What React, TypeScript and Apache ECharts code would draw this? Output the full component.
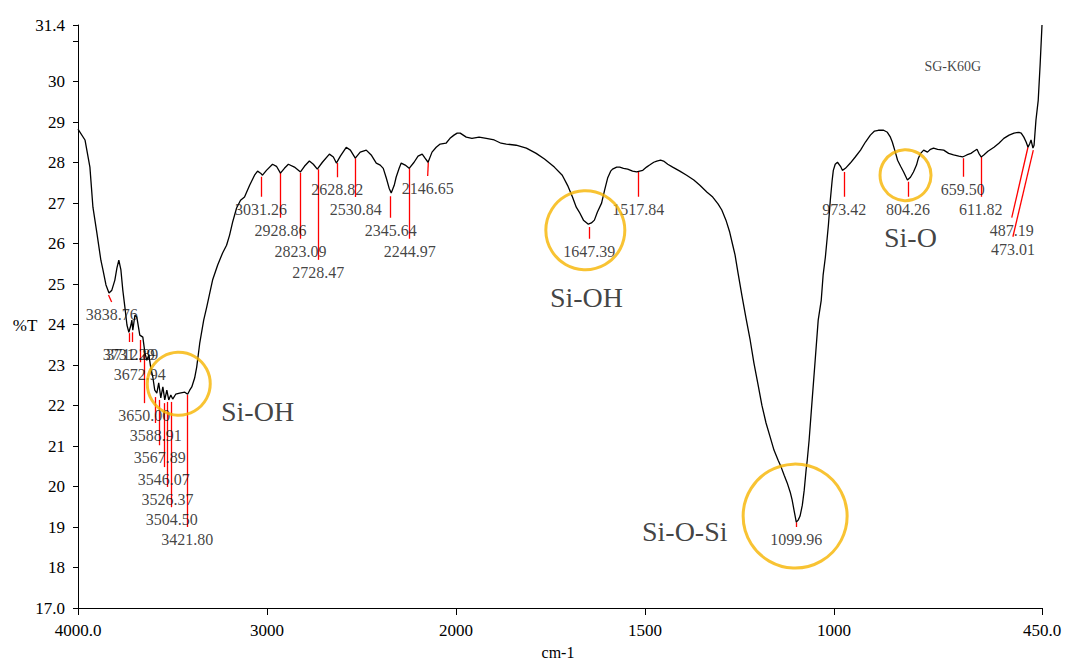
import React, { useEffect, useRef } from "react";
import * as echarts from "echarts";

// ---------- data ----------
const wavenumbers = [
  4000, 3963, 3937, 3921, 3900, 3879, 3868, 3852, 3836, 3821, 3805, 3794, 3784, 3773, 3763, 3752, 3741, 3731, 3720, 3715,
  3710, 3699, 3689, 3673, 3657, 3646, 3636, 3625, 3615, 3604, 3594, 3583, 3573, 3562, 3551, 3541, 3530, 3520, 3509, 3499,
  3483, 3462, 3435, 3420, 3409, 3398, 3383, 3372, 3356, 3335, 3319, 3303, 3288, 3261, 3235, 3214, 3198, 3182, 3161, 3140,
  3119, 3092, 3066, 3050, 3034, 3024, 3003, 2971, 2950, 2929, 2908, 2887, 2855, 2823, 2802, 2776, 2755, 2734, 2707, 2670,
  2649, 2633, 2612, 2581, 2559, 2533, 2507, 2475, 2449, 2422, 2401, 2385, 2369, 2354, 2343, 2327, 2317, 2301, 2290, 2269,
  2248, 2222, 2201, 2179, 2164, 2148, 2127, 2105, 2084, 2053, 2032, 2011,
  1997, 1989, 1973, 1958, 1939, 1920, 1899, 1881, 1867, 1841, 1814, 1788, 1766, 1740, 1719, 1705, 1692, 1682, 1674, 1663,
  1650, 1642, 1634, 1626, 1615, 1607, 1599, 1591, 1586, 1575, 1567, 1557, 1546, 1533, 1522, 1514, 1506, 1496, 1488, 1477,
  1469, 1459, 1451, 1440, 1427, 1408, 1390, 1371, 1355, 1336, 1321, 1307, 1297, 1286, 1276, 1268, 1262, 1254, 1244, 1233,
  1222, 1212, 1201, 1191, 1180, 1169, 1159, 1148, 1140, 1132, 1124, 1116, 1111, 1106, 1100, 1095, 1090, 1084, 1079, 1074,
  1071, 1066, 1058, 1050, 1042, 1034, 1029, 1023, 1015, 1010, 1005, 1002, 997, 991, 983, 978, 970, 957, 944, 930,
  917, 904, 893, 883, 869, 859, 851, 846, 838, 832, 824, 816, 806, 798, 790, 782, 777, 771, 763, 753,
  745, 737, 726, 710, 697, 684, 670, 660, 649, 638, 630, 622, 617, 611, 604, 593, 577, 564, 551, 537,
  524, 511, 505, 498, 492, 487, 482, 479, 474, 471, 466, 460, 455, 450,
];
const transmittance = [
  28.83, 28.56, 27.89, 26.9, 26.26, 25.59, 25.35, 24.98, 24.78, 24.85, 25.1, 25.4, 25.59, 25.35, 24.85, 24.43, 23.99, 23.81, 23.99, 24.11,
  23.86, 24.23, 24.19, 23.74, 23.69, 23.3, 23.12, 23.25, 22.93, 22.7, 22.38, 22.31, 22.56, 22.19, 22.46, 22.14, 22.38, 22.14, 22.26, 22.16,
  22.28, 22.31, 22.33, 22.28, 22.38, 22.46, 22.68, 22.95, 23.54, 24.11, 24.43, 24.78, 25.1, 25.47, 25.77, 25.96, 26.21, 26.53, 26.88, 27.07,
  27.15, 27.44, 27.69, 27.79, 27.74, 27.69, 27.81, 27.96, 27.91, 27.74, 27.86, 27.96, 27.89, 27.77, 27.91, 28.04, 27.96, 27.84, 28.01, 28.21,
  28.14, 27.99, 28.16, 28.38, 28.31, 28.11, 28.26, 28.31, 28.19, 27.99, 27.94, 27.86, 27.62, 27.37, 27.25, 27.44, 27.64, 27.86, 27.99, 27.94,
  27.86, 28.01, 28.16, 28.21, 28.11, 28.01, 28.26, 28.38, 28.46, 28.48, 28.6, 28.68,
  28.73, 28.73, 28.63, 28.6, 28.63, 28.6, 28.56, 28.48, 28.46, 28.43, 28.36, 28.23, 28.09, 27.89, 27.69, 27.44, 27.15, 26.9, 26.78, 26.58,
  26.48, 26.51, 26.58, 26.78, 27.0, 27.32, 27.62, 27.79, 27.84, 27.89, 27.89, 27.86, 27.84, 27.79, 27.77, 27.79, 27.81, 27.89, 27.94, 28.01,
  28.04, 28.06, 28.04, 27.96, 27.89, 27.79, 27.69, 27.57, 27.44, 27.27, 27.15, 26.98, 26.83, 26.58, 26.28, 25.96, 25.72, 25.27, 24.73, 24.16,
  23.62, 23.05, 22.51, 22.01, 21.57, 21.22, 20.9, 20.65, 20.48, 20.28, 20.09, 19.86, 19.67, 19.42, 19.12, 19.17, 19.27, 19.54, 19.91, 20.41,
  20.65, 21.15, 22.14, 23.12, 24.11, 24.6, 25.22, 25.67, 26.46, 27.07, 27.57, 27.81, 27.96, 28.01, 27.91, 27.81, 27.86, 27.99, 28.14, 28.31,
  28.51, 28.68, 28.78, 28.8, 28.8, 28.75, 28.63, 28.51, 28.26, 28.06, 27.91, 27.77, 27.57, 27.64, 27.77, 27.94, 28.11, 28.23, 28.31, 28.26,
  28.33, 28.36, 28.33, 28.31, 28.23, 28.19, 28.16, 28.14, 28.19, 28.23, 28.28, 28.33, 28.23, 28.14, 28.19, 28.28, 28.38, 28.48, 28.6, 28.68,
  28.73, 28.75, 28.73, 28.63, 28.51, 28.38, 28.48, 28.56, 28.36, 28.43, 29.05, 29.54, 30.41, 31.4,
];

const peakNames = [
  "3838.76", "3731.29", "3712.89", "3672.94", "3650.00", "3588.91", "3567.89", "3546.07", "3526.37", "3504.50",
  "3421.80", "3031.26", "2928.86", "2823.09", "2728.47", "2628.82", "2530.84", "2345.64", "2244.97", "2146.65",
  "1647.39", "1517.84", "1099.96", "973.42", "804.26", "659.50", "611.82", "487.19", "473.01",
];
// marker start (on the curve) and marker foot (above the label), in cm-1 / %T
const peakTopX = [
  3838.76, 3731.29, 3712.89, 3672.94, 3650.0, 3588.91, 3567.89, 3546.07, 3526.37, 3504.5,
  3421.8, 3031.26, 2928.86, 2823.09, 2728.47, 2628.82, 2530.84, 2345.64, 2244.97, 2146.65,
  1647.39, 1517.84, 1099.96, 973.42, 804.26, 659.5, 611.82, 487.19, 473.01,
];
const peakTopY = [
  24.73, 23.79, 23.81, 23.62, 23.3, 22.21, 22.14, 22.06, 22.09, 22.09,
  22.26, 27.65, 27.75, 27.75, 27.84, 27.99, 28.11, 27.17, 27.86, 28.01,
  26.41, 27.77, 19.12, 27.77, 27.53, 28.11, 28.14, 28.38, 28.31,
];
const peakFootX = [
  3822, 3731.29, 3712.89, 3672.94, 3650.0, 3588.91, 3567.89, 3546.07, 3526.37, 3504.5,
  3421.8, 3031.26, 2928.86, 2823.09, 2728.47, 2628.82, 2530.84, 2345.64, 2244.97, 2150,
  1647.39, 1517.84, 1099.96, 973.42, 804.26, 659.5, 611.82, 530, 527,
];
const peakFootY = [
  24.56, 23.57, 23.57, 23.07, 22.06, 21.57, 21.02, 20.48, 19.99, 19.49,
  19.0, 27.16, 26.64, 26.12, 25.6, 27.64, 27.15, 26.64, 26.12, 27.67,
  26.12, 27.16, 19.0, 27.16, 27.16, 27.65, 27.16, 26.64, 26.17,
];

const bandNames = ["Si-OH", "Si-OH", "Si-O-Si", "Si-O"];
const bandCircleX = [3467, 1658, 1103, 811];
const bandCircleY = [22.54, 26.33, 19.27, 27.69];
const bandTextX = [3050, 1655, 1395, 798];
const bandTextY = [21.86, 24.68, 18.88, 26.16];

const sampleName = "SG-K60G";
const sampleNameAt = [686, 30.38];

const xTickWavenumbers = [4000, 3000, 2000, 1500, 1000, 450];
const xTickLabels = ["4000.0", "3000", "2000", "1500", "1000", "450.0"];
const yTickValues = [17, 18, 19, 20, 21, 22, 23, 24, 25, 26, 27, 28, 29, 30, 31, 31.4];
const yLabelValues = [17, 18, 19, 20, 21, 22, 23, 24, 25, 26, 27, 28, 29, 30, 31.4];
const yLabelTexts = ["17.0", "18", "19", "20", "21", "22", "23", "24", "25", "26", "27", "28", "29", "30", "31.4"];

// ---------- styles ----------
const circleDiameters = [63, 79, 104, 51];
const FONT = "'Liberation Serif', 'DejaVu Serif', serif";
const GOLD = "#F6B400";

// Spectrometer scale: 2x expansion below 2000 cm-1
const toU = (w: number) => (w >= 2000 ? 4000 - w : 2000 + 2 * (2000 - w));

export default function App() {
  const ref = useRef<HTMLDivElement>(null);

  useEffect(() => {
    document.body.style.margin = "0";
    if (!ref.current) return;
    const chart = echarts.init(ref.current, undefined, { renderer: "svg" });

    const xTickU = xTickWavenumbers.map(toU);
    const near = (a: number, b: number) => Math.abs(a - b) < 1e-6;

    const option: any = {
      animation: false,
      backgroundColor: "#fff",
      grid: { left: 78, right: 28, top: 25, bottom: 53, containLabel: false },
      xAxis: {
        type: "value",
        min: 0,
        max: toU(450),
        splitLine: { show: false },
        axisLine: { show: true, onZero: false, lineStyle: { color: "#000", width: 1 } },
        axisTick: { show: true, inside: false, length: 7, customValues: xTickU, lineStyle: { color: "#000" } },
        axisLabel: {
          customValues: xTickU,
          margin: 14,
          fontFamily: FONT,
          fontSize: 17,
          color: "#000",
          formatter: (v: number) => {
            const i = xTickU.findIndex((c) => near(c, v));
            return i >= 0 ? xTickLabels[i] : "";
          },
        },
      },
      yAxis: {
        type: "value",
        min: 17,
        max: 31.4,
        splitLine: { show: false },
        axisLine: { show: true, onZero: false, lineStyle: { color: "#000", width: 1 } },
        axisTick: { show: true, length: 5, customValues: yTickValues, lineStyle: { color: "#000" } },
        axisLabel: {
          customValues: yLabelValues,
          margin: 13,
          padding: [0, 0, 10, 0],
          fontFamily: FONT,
          fontSize: 17,
          color: "#000",
          formatter: (v: number) => {
            const i = yLabelValues.findIndex((c) => near(c, v));
            return i >= 0 ? yLabelTexts[i] : "";
          },
        },
      },
      graphic: [
        { type: "text", x: 25, y: 325, style: { text: "%T", font: `17px ${FONT}`, fill: "#000", align: "center", verticalAlign: "middle" } },
        { type: "text", x: 558, y: 652, style: { text: "cm-1", font: `16px ${FONT}`, fill: "#000", align: "center", verticalAlign: "middle" } },
      ],
      series: [
        {
          type: "line",
          data: wavenumbers.map((w, i) => [toU(w), transmittance[i]]),
          showSymbol: false,
          symbol: "none",
          clip: false,
          lineStyle: { color: "#000", width: 1.3 },
          z: 3,
        },
        {
          type: "lines",
          coordinateSystem: "cartesian2d",
          polyline: false,
          data: peakNames.map((n, i) => ({
            name: n,
            coords: [
              [toU(peakTopX[i]), peakTopY[i]],
              [toU(peakFootX[i]), peakFootY[i]],
            ],
          })),
          lineStyle: { color: "#FF0000", width: 1.3, opacity: 1 },
          z: 2,
        },
        {
          type: "scatter",
          data: peakNames.map((n, i) => ({ name: n, value: [toU(peakFootX[i]), peakFootY[i]] })),
          symbolSize: 1,
          itemStyle: { color: "rgba(0,0,0,0)" },
          clip: false,
          label: {
            show: true,
            position: "bottom",
            distance: 4,
            formatter: (p: any) => p.name,
            fontFamily: FONT,
            fontSize: 16,
            color: "#111",
          },
          z: 4,
        },
        {
          type: "scatter",
          data: bandNames.map((n, i) => ({
            name: n,
            value: [toU(bandCircleX[i]), bandCircleY[i]],
            symbolSize: circleDiameters[i],
          })),
          symbol: "circle",
          itemStyle: { color: "rgba(0,0,0,0)", borderColor: GOLD, borderWidth: 3 },
          z: 5,
        },
        {
          type: "scatter",
          data: bandNames.map((n, i) => ({ name: n, value: [toU(bandTextX[i]), bandTextY[i]] })),
          symbolSize: 1,
          itemStyle: { color: "rgba(0,0,0,0)" },
          label: {
            show: true,
            position: "inside",
            formatter: (p: any) => p.name,
            fontFamily: FONT,
            fontSize: 28,
            color: "#111",
          },
          z: 6,
        },
        {
          type: "scatter",
          data: [{ name: sampleName, value: [toU(sampleNameAt[0]), sampleNameAt[1]] }],
          symbolSize: 1,
          itemStyle: { color: "rgba(0,0,0,0)" },
          label: {
            show: true,
            position: "inside",
            formatter: (p: any) => p.name,
            fontFamily: FONT,
            fontSize: 14,
            color: "#111",
          },
          z: 6,
        },
      ],
    };

    chart.setOption(option);
    return () => chart.dispose();
  }, []);

  return (
    <div
      ref={ref}
      style={{ position: "absolute", left: 0, top: 0, width: 1070, height: 661, background: "#fff" }}
    />
  );
}
